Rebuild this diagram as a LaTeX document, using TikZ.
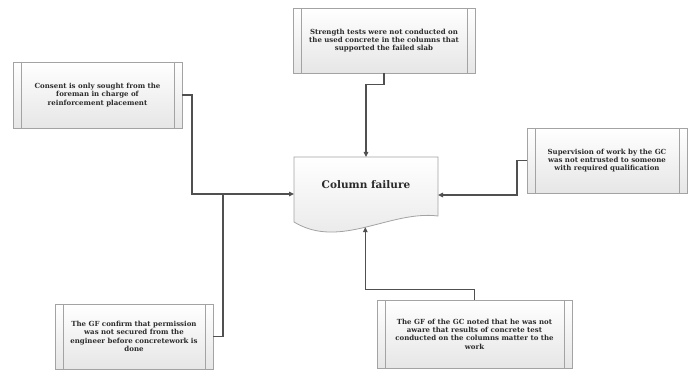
\documentclass[tikz,border=0pt]{standalone}
\usepackage{fontspec}
\setmainfont{DejaVu Serif}
\usetikzlibrary{arrows.meta,shadings}
\definecolor{boxline}{HTML}{A3A3A3}
\definecolor{boxfill}{HTML}{E6E6E6}
\definecolor{connline}{HTML}{505050}
\definecolor{txt}{HTML}{2B2B2B}
\tikzset{
  procbox/.style={draw=boxline, line width=0.8pt, top color=white, bottom color=boxfill,
    align=center, inner sep=0pt, text=txt,
    font=\fontsize{7}{8.4}\selectfont\bfseries,
    path picture={
      \draw[boxline, line width=0.8pt]
        ([xshift=8pt]path picture bounding box.north west) -- ([xshift=8pt]path picture bounding box.south west)
        ([xshift=-8pt]path picture bounding box.north east) -- ([xshift=-8pt]path picture bounding box.south east);
    }},
  conn/.style={draw=connline, line width=1.3pt, -{Triangle[length=5pt,width=4.5pt]}},
  connplain/.style={draw=connline, line width=1.3pt},
}
\begin{document}
\begin{tikzpicture}[x=1pt,y=-1pt]
\useasboundingbox (0,0) rectangle (694,374);
% boxes
\node[procbox, minimum width=182pt, minimum height=65pt] (t) at (384,40.5)
  {Strength tests were not conducted on\\the used concrete in the columns that\\supported the failed slab};
\node[procbox, minimum width=169pt, minimum height=66pt] (l) at (97.5,95)
  {Consent is only sought from the\\foreman in charge of\\reinforcement placement};
\node[procbox, minimum width=160pt, minimum height=65pt] (r) at (607,160.5)
  {Supervision of work by the GC\\was not entrusted to someone\\with required qualification};
\node[procbox, minimum width=158pt, minimum height=65pt] (bl) at (134,336.5)
  {The GF confirm that permission\\was not secured from the\\engineer before concretework is\\done};
\node[procbox, minimum width=195pt, minimum height=68pt] (br) at (474.5,334)
  {The GF of the GC noted that he was not\\aware that results of concrete test\\conducted on the columns matter to the\\work};
% document shape
\path[draw=boxline, line width=0.8pt, top color=white, bottom color=boxfill]
  (294,157) -- (438,157) -- (438,216)
  .. controls (390,210) and (340,250) .. (294,222) -- cycle;
\node[font=\fontsize{10.5}{12}\selectfont\bfseries, text=txt] (cf) at (366,185) {Column failure};
\coordinate (cfN) at (366,157);
\coordinate (cfW) at (294,194);
\coordinate (cfE) at (438,195);
\coordinate (cfS) at (365.3,227.2);
\coordinate (jl) at (192,194);
\coordinate (jb) at (223,194);
\coordinate (jr) at (517,195);
% connectors
\draw[conn] (t.south) -- ++(0,11) -| (cfN);
\draw[conn] (l.east) -| (jl) -- (cfW);
\draw[connplain] (bl.east) -| (jb);
\draw[conn] (r.west) -| (jr) -- (cfE);
\draw[conn] (br.north) -- ++(0,-10) -| (cfS);
\end{tikzpicture}
\end{document}
